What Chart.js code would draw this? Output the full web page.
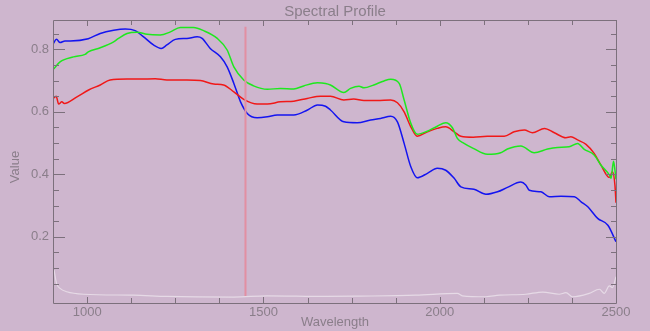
<!DOCTYPE html>
<html>
<head>
<meta charset="utf-8">
<title>Spectral Profile</title>
<script src="https://cdn.jsdelivr.net/npm/chart.js@4"></script>
<style>
  html, body { margin: 0; padding: 0; background: #ceb6ce; }
  canvas { display: block; }
</style>
</head>
<body>
<canvas id="chart" width="650" height="331"></canvas>
<script>
'use strict';

// ── Data ────────────────────────────────────────────────────
const blueWl  = [903, 913, 923, 937, 952, 1003, 1037, 1075, 1108, 1136, 1160, 1188, 1210, 1226, 1250, 1283, 1312, 1326, 1349, 1378, 1397, 1416, 1435, 1454, 1482, 1511, 1539, 1586, 1625, 1653, 1676, 1690, 1728, 1766, 1804, 1832, 1861, 1880, 1899, 1918, 1936, 1965, 1993, 2017, 2041, 2060, 2097, 2131, 2164, 2192, 2230, 2244, 2254, 2287, 2311, 2344, 2382, 2401, 2420, 2448, 2477, 2500];
const blueVal = [0.817, 0.832, 0.822, 0.827, 0.827, 0.834, 0.851, 0.861, 0.865, 0.86, 0.84, 0.814, 0.803, 0.814, 0.832, 0.835, 0.84, 0.835, 0.803, 0.776, 0.744, 0.691, 0.632, 0.595, 0.581, 0.584, 0.59, 0.59, 0.606, 0.622, 0.618, 0.606, 0.568, 0.565, 0.574, 0.579, 0.586, 0.568, 0.499, 0.424, 0.389, 0.403, 0.419, 0.413, 0.387, 0.36, 0.352, 0.336, 0.344, 0.358, 0.375, 0.366, 0.349, 0.344, 0.328, 0.33, 0.328, 0.312, 0.296, 0.259, 0.237, 0.184];

const greenWl  = [904, 923, 961, 994, 1003, 1037, 1075, 1089, 1113, 1141, 1170, 1207, 1236, 1264, 1302, 1330, 1369, 1397, 1416, 1444, 1472, 1511, 1548, 1586, 1614, 1653, 1676, 1690, 1728, 1747, 1771, 1785, 1813, 1842, 1861, 1885, 1899, 1918, 1936, 1965, 1993, 2017, 2036, 2050, 2069, 2095, 2135, 2173, 2192, 2230, 2268, 2306, 2334, 2367, 2391, 2410, 2438, 2457, 2481, 2486, 2493, 2497, 2500];
const greenVal = [0.736, 0.76, 0.776, 0.784, 0.792, 0.805, 0.824, 0.835, 0.851, 0.855, 0.848, 0.846, 0.856, 0.87, 0.87, 0.86, 0.835, 0.798, 0.744, 0.702, 0.683, 0.672, 0.675, 0.673, 0.683, 0.693, 0.691, 0.686, 0.662, 0.675, 0.682, 0.677, 0.686, 0.699, 0.704, 0.691, 0.638, 0.563, 0.528, 0.538, 0.554, 0.565, 0.549, 0.515, 0.499, 0.483, 0.464, 0.469, 0.481, 0.491, 0.469, 0.481, 0.486, 0.488, 0.499, 0.48, 0.462, 0.43, 0.398, 0.387, 0.442, 0.413, 0.384];

const redWl  = [904, 912, 919, 928, 935, 971, 1004, 1037, 1065, 1113, 1151, 1193, 1226, 1283, 1321, 1359, 1387, 1416, 1444, 1482, 1511, 1548, 1586, 1624, 1662, 1690, 1728, 1756, 1785, 1823, 1861, 1880, 1899, 1918, 1936, 1965, 1993, 2017, 2041, 2060, 2095, 2135, 2183, 2211, 2240, 2263, 2297, 2325, 2358, 2372, 2391, 2415, 2438, 2457, 2481, 2490, 2497, 2500];
const redVal = [0.643, 0.65, 0.625, 0.632, 0.627, 0.648, 0.67, 0.686, 0.702, 0.705, 0.705, 0.706, 0.702, 0.702, 0.7, 0.689, 0.686, 0.664, 0.64, 0.625, 0.625, 0.632, 0.634, 0.643, 0.65, 0.65, 0.638, 0.641, 0.636, 0.636, 0.638, 0.629, 0.6, 0.552, 0.522, 0.536, 0.547, 0.552, 0.536, 0.522, 0.519, 0.522, 0.522, 0.536, 0.542, 0.533, 0.547, 0.533, 0.517, 0.52, 0.51, 0.496, 0.467, 0.43, 0.39, 0.408, 0.365, 0.309];

const whiteWl  = [906, 913, 923, 942, 990, 1131, 1226, 1416, 1511, 1676, 1771, 1932, 2050, 2064, 2131, 2169, 2244, 2292, 2339, 2358, 2377, 2424, 2453, 2467, 2481, 2490, 2500];
const whiteVal = [0.093, 0.051, 0.035, 0.024, 0.016, 0.013, 0.009, 0.007, 0.011, 0.009, 0.01, 0.013, 0.019, 0.011, 0.008, 0.013, 0.016, 0.023, 0.016, 0.021, 0.008, 0.019, 0.032, 0.019, 0.043, 0.037, 0.072];

// cursor line
const markerWl    = 1449;
const markerRange = [0.007, 0.872];

// axes
const xRange      = [903, 2500];
const yRange      = [-0.012, 0.894];
const xMajorTicks = [1000, 1500, 2000, 2500];
const xMinorTicks = [1125, 1250, 1375, 1625, 1750, 1875, 2125, 2250, 2375];
const yMajorTicks = [0.2, 0.4, 0.6, 0.8];
const yMinorTicks = [0.05, 0.1, 0.15, 0.25, 0.3, 0.35, 0.45, 0.5, 0.55, 0.65, 0.7, 0.75, 0.85];

const TEXT = '#8a7e8a';
const AXIS = '#7c707c';
const FONT = '"Liberation Sans", Arial, sans-serif';

const toPts = (xs, ys) => xs.map((x, i) => ({ x, y: ys[i] }));

// ── IDL-style frame: inward ticks, labels, titles ──────────
const framePlugin = {
  id: 'frame',
  afterDatasetsDraw(chart) {
    const { ctx, chartArea: a, scales: { x, y } } = chart;
    ctx.save();
    ctx.strokeStyle = AXIS;
    ctx.lineWidth = 1;
    ctx.beginPath();
    ctx.rect(a.left + 0.5, a.top + 0.5, a.right - a.left, a.bottom - a.top);
    ctx.stroke();

    const vTick = (v, len) => {
      const px = Math.round(x.getPixelForValue(v)) + 0.5;
      ctx.moveTo(px, a.bottom); ctx.lineTo(px, a.bottom - len);
      ctx.moveTo(px, a.top);    ctx.lineTo(px, a.top + len);
    };
    const hTick = (v, lenL, lenR) => {
      const py = Math.round(y.getPixelForValue(v)) + 0.5;
      ctx.moveTo(a.left, py);  ctx.lineTo(a.left + lenL, py);
      ctx.moveTo(a.right, py); ctx.lineTo(a.right - lenR, py);
    };
    ctx.beginPath();
    xMajorTicks.forEach(v => vTick(v, 6));
    xMinorTicks.forEach(v => vTick(v, 5));
    yMajorTicks.forEach(v => hTick(v, 12, 10));
    yMinorTicks.forEach(v => hTick(v, 6, 5));
    ctx.stroke();

    ctx.fillStyle = TEXT;
    ctx.font = `13px ${FONT}`;
    ctx.textAlign = 'center';
    ctx.textBaseline = 'middle';
    xMajorTicks.forEach(v => ctx.fillText(String(v), x.getPixelForValue(v), 312));
    ctx.textAlign = 'right';
    yMajorTicks.forEach(v => ctx.fillText(v.toFixed(1), 49, y.getPixelForValue(v)));

    ctx.textAlign = 'center';
    ctx.font = `15px ${FONT}`;
    ctx.fillText('Spectral Profile', 335, 12);
    ctx.font = `13px ${FONT}`;
    ctx.fillText('Wavelength', 335, 322);
    ctx.translate(15, 167);
    ctx.rotate(-Math.PI / 2);
    ctx.fillText('Value', 0, 0);
    ctx.restore();
  }
};

const line = (data, color, width = 1.5) => ({
  data, borderColor: color, borderWidth: width,
  pointRadius: 0, fill: false, cubicInterpolationMode: 'monotone'
});

new Chart(document.getElementById('chart'), {
  type: 'line',
  data: {
    datasets: [
      line(toPts(whiteWl, whiteVal), '#e6dae6', 1.2),
      line(toPts([markerWl, markerWl], markerRange), '#e28fa2', 2),
      line(toPts(greenWl, greenVal), '#1ee81e'),
      line(toPts(redWl, redVal), '#f01818'),
      line(toPts(blueWl, blueVal), '#1414f0')
    ]
  },
  options: {
    responsive: false,
    animation: false,
    devicePixelRatio: 1,
    layout: { padding: { left: 53, top: 20, right: 34, bottom: 28 } },
    plugins: { legend: { display: false }, tooltip: { enabled: false } },
    scales: {
      x: { type: 'linear', display: false, min: xRange[0], max: xRange[1] },
      y: { type: 'linear', display: false, min: yRange[0], max: yRange[1] }
    }
  },
  plugins: [framePlugin]
});
</script>
</body>
</html>
